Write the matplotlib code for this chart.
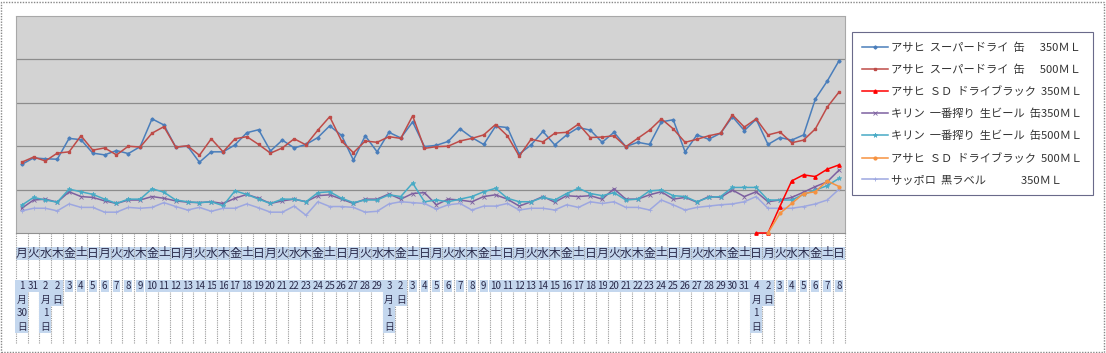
import numpy as np
import matplotlib
matplotlib.use("Agg")
import matplotlib.pyplot as plt
from matplotlib.patches import Rectangle

plt.rcParams['font.family'] = ['Noto Sans CJK JP', 'DejaVu Sans']

# 曜日と日付 (1/30 ～ 4/8)
youbi = list("月火水木金土日") * 10
hizuke = ["1\n月\n30\n日", "31", "2\n月\n1\n日", "2\n日",
          "3", "4", "5", "6", "7", "8", "9", "10", "11", "12", "13", "14",
          "15", "16", "17", "18", "19", "20", "21", "22", "23", "24", "25",
          "26", "27", "28", "29",
          "3\n月\n1\n日", "2\n日",
          "3", "4", "5", "6", "7", "8", "9", "10", "11", "12", "13", "14",
          "15", "16", "17", "18", "19", "20", "21", "22", "23", "24", "25",
          "26", "27", "28", "29", "30", "31",
          "4\n月\n1\n日", "2\n日",
          "3", "4", "5", "6", "7", "8"]

# 系列データ
asahi_sd_350 = [158, 173, 171, 170, 218, 215, 184, 180, 190, 183,
                199, 263, 249, 198, 200, 163, 187, 187, 203, 231,
                238, 189, 214, 196, 204, 220, 247, 225, 168, 224,
                187, 232, 219, 256, 199, 202, 211, 240, 220, 204,
                246, 243, 182, 203, 234, 203, 226, 243, 237, 209,
                232, 199, 209, 204, 256, 261, 187, 226, 216, 230,
                268, 236, 262, 204, 220, 214, 226, 309, 350, 397]
asahi_sd_500 = [163, 175, 166, 184, 187, 224, 191, 196, 180, 200,
                198, 230, 245, 198, 201, 179, 217, 187, 217, 222,
                204, 184, 196, 217, 203, 237, 268, 212, 185, 212,
                209, 222, 218, 270, 195, 199, 200, 212, 218, 226,
                250, 224, 177, 216, 210, 230, 232, 251, 220, 221,
                224, 199, 218, 237, 263, 240, 209, 216, 224, 230,
                272, 244, 263, 226, 233, 208, 214, 240, 290, 325]
black_350 = [0, 0, 61, 120, 134, 130, 147, 157]      # 4/1 から
kirin_350 = [57, 76, 78, 71, 95, 84, 82, 74, 68, 76,
             76, 84, 80, 74, 71, 70, 72, 68, 80, 89,
             80, 68, 74, 78, 72, 86, 88, 78, 68, 78,
             78, 90, 78, 91, 93, 65, 78, 76, 72, 84,
             88, 78, 62, 72, 84, 71, 86, 84, 86, 78,
             102, 78, 78, 88, 95, 78, 82, 71, 84, 82,
             99, 84, 95, 72, 76, 82, 94, 107, 118, 145]
kirin_500 = [64, 82, 76, 71, 101, 95, 89, 78, 68, 78,
             78, 102, 94, 76, 72, 70, 72, 63, 97, 89,
             78, 68, 78, 78, 72, 93, 95, 80, 70, 76,
             76, 88, 84, 115, 72, 76, 72, 78, 84, 95,
             103, 80, 72, 72, 82, 76, 91, 103, 91, 86,
             93, 76, 78, 97, 99, 86, 84, 72, 82, 84,
             105, 105, 105, 76, 76, 76, 89, 99, 109, 126]
black_500 = [0, 45, 68, 91, 95, 120, 107]             # 4/2 から
sapporo_350 = [51, 57, 57, 51, 67, 59, 59, 48, 48, 59,
               57, 59, 70, 61, 53, 59, 50, 57, 57, 67,
               58, 48, 48, 62, 41, 72, 61, 61, 59, 48,
               50, 67, 72, 70, 68, 55, 65, 68, 53, 62,
               62, 68, 53, 57, 57, 53, 65, 59, 72, 68,
               72, 59, 59, 53, 76, 65, 53, 59, 62, 65,
               67, 72, 84, 57, 57, 57, 61, 67, 76, 101]

names = ["アサヒ  スーパードライ  缶      350ＭＬ",
         "アサヒ  スーパードライ  缶      500ＭＬ",
         "アサヒ  ＳＤ  ドライブラック  350ＭＬ",
         "キリン  一番搾り  生ビール  缶350ＭＬ",
         "キリン  一番搾り  生ビール  缶500ＭＬ",
         "アサヒ  ＳＤ  ドライブラック  500ＭＬ",
         "サッポロ  黒ラベル              350ＭＬ"]

W, H = 1106, 353
fig = plt.figure(figsize=(W / 100, H / 100), dpi=100)
fig.patch.set_facecolor('white')

pl, pr, pt, pb = 15.8, 845.0, 16.0, 233.0
ax = fig.add_axes([pl / W, 1 - pb / H, (pr - pl) / W, (pb - pt) / H])
ax.set_facecolor('#d3d3d3')

x = np.arange(len(youbi))
n = len(x)
lw = 1.1
ax.plot(x, asahi_sd_350, color='#4a7ebb', lw=lw, marker='D', ms=1.6, label=names[0])
ax.plot(x, asahi_sd_500, color='#be4b48', lw=lw, marker='s', ms=2.0, label=names[1])
ax.plot(x[n - len(black_350):], black_350, color='#ff0000', lw=lw, marker='^', ms=2.4,
        label=names[2], clip_on=False, zorder=4)
ax.plot(x, kirin_350, color='#7d60a0', lw=lw, marker='x', ms=2.8, mew=0.6, label=names[3])
ax.plot(x, kirin_500, color='#46aac5', lw=lw, marker='*', ms=3.5, mew=0.4, label=names[4])
ax.plot(x[n - len(black_500):], black_500, color='#f69240', lw=lw, marker='o', ms=2.0,
        label=names[5], clip_on=False, zorder=4)
ax.plot(x, sapporo_350, color='#9da7e0', lw=lw, marker='+', ms=3.2, mew=0.6, label=names[6])

ax.set_xlim(-0.5, n - 0.5)
ax.set_ylim(0, 500)
ax.set_yticks([100, 200, 300, 400])
ax.yaxis.grid(True, color='#8c8c8c', lw=0.9)
ax.set_axisbelow(True)
ax.tick_params(length=0, labelbottom=False, labelleft=False)
ax.set_xticks([])
for s in ax.spines.values():
    s.set_color('#a8a8a8')
    s.set_linewidth(0.8)
    s.set_linestyle((0, (1, 1)))
ax.spines['bottom'].set_color('#909090')


def ay(py):
    return (pb - py) / (pb - pt)


tr = ax.get_xaxis_transform()
# 曜日の帯
ax.add_patch(Rectangle((-0.5, ay(260)), n, ay(246.5) - ay(260), transform=tr,
                       facecolor='#c4d7ee', edgecolor='none', clip_on=False, zorder=1))
# 区切り線
ax.vlines(np.arange(n + 1) - 0.5, ay(343), 0, transform=tr, colors='#9a9a9a',
          lw=0.8, linestyles=(0, (1, 1)), clip_on=False, zorder=2)

for i in range(n):
    ax.text(i, ay(253), youbi[i], transform=tr, ha='center', va='center',
            fontsize=8.5, color='#2a2a4a', zorder=3, clip_on=False)
    ax.text(i, ay(281), hizuke[i], transform=tr, ha='center', va='top',
            fontsize=7, color='#2a2a4a', linespacing=1.45, zorder=3, clip_on=False,
            bbox=dict(boxstyle='square,pad=0.12', facecolor='#c4d7ee', edgecolor='none'))

leg = fig.legend(loc='upper left', bbox_to_anchor=(852 / W, 1 - 32 / H),
                 borderaxespad=0, fontsize=8.1, handlelength=2.3, handletextpad=0.3,
                 labelspacing=1.03, borderpad=0.9, fancybox=False, framealpha=1)
leg.get_frame().set_edgecolor('#6a6a8a')
leg.get_frame().set_linewidth(0.8)
for t in leg.get_texts():
    t.set_color('#333333')

fig.patches.append(Rectangle((1 / W, 1 / H), (W - 3) / W, (H - 3) / H, transform=fig.transFigure,
                             fill=False, edgecolor='#888888', lw=1, linestyle=(0, (1, 1))))

fig.savefig('out.png', dpi=100)
